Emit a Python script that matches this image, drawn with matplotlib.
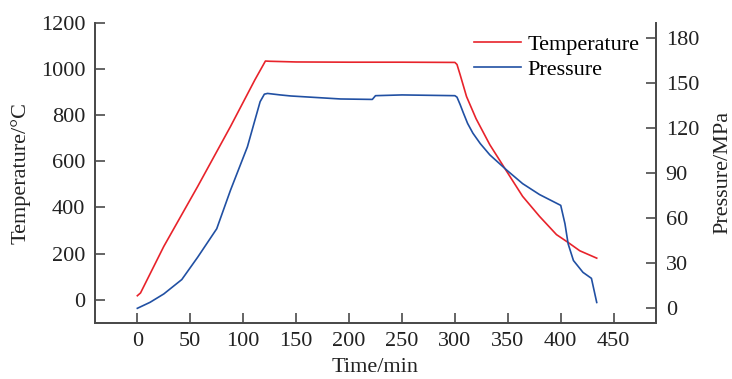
import matplotlib
matplotlib.use("Agg")
import matplotlib.pyplot as plt

plt.rcParams['font.family'] = ['Liberation Serif', 'DejaVu Serif']

# temperature curve (min, degC)
t_time = [0, 3, 25, 57, 88, 111, 121, 125, 150, 200, 250, 300, 302, 305, 311,
          320, 333, 349, 364, 380, 396, 407, 418, 434]
t_val = [17, 29, 231, 491, 751, 953, 1035, 1034, 1031, 1030, 1030, 1029, 1020,
         975, 881, 785, 672, 556, 448, 361, 282, 248, 212, 180]

# pressure curve (min, MPa)
p_time = [0, 12, 25, 42, 57, 75, 88, 104, 111, 116, 120, 123, 135, 145, 192,
          222, 225, 250, 300, 302, 305, 308, 312, 317, 324, 333, 349, 364, 380,
          400, 404, 407, 412, 421, 429, 434]
p_val = [-0.4, 3.6, 9.2, 18.8, 33.7, 52.7, 78.4, 107.4, 125, 137.5, 142.5, 143,
         142, 141.3, 139.3, 139, 141.5, 142, 141.5, 140.5, 135.5, 130, 123,
         116.5, 109.5, 102, 91.8, 82.8, 75.5, 68.3, 56, 42.6, 31.5, 23.6, 19.6,
         3.5]

x_ticks = [0, 50, 100, 150, 200, 250, 300, 350, 400, 450]
t_ticks = [0, 200, 400, 600, 800, 1000, 1200]
p_ticks = [0, 30, 60, 90, 120, 150, 180]

red = '#e8232b'
blue = '#2150a3'
spine_c = '#4a4a4a'
txt_c = '#222222'

fig = plt.figure(figsize=(7.32, 3.79), dpi=100)
ax = fig.add_axes([95 / 732, 1 - 322.7 / 379, (656 - 95) / 732, (322.7 - 23) / 379])
ax2 = ax.twinx()

l1, = ax.plot(t_time, t_val, color=red, lw=1.2, label='Temperature')
l2, = ax2.plot(p_time, p_val, color=blue, lw=1.2, label='Pressure')

ax.set_xlim(-40, 490)
ax.set_ylim(-100, 1200)
ax2.set_ylim(-10, 190)
ax.set_xticks(x_ticks)
ax.set_yticks(t_ticks)
ax2.set_yticks(p_ticks)

for a in (ax, ax2):
    a.spines['top'].set_visible(False)
    for s in a.spines.values():
        s.set_color(spine_c)
        s.set_linewidth(1.3)
    a.tick_params(direction='in', length=7, width=1.2, color=spine_c,
                  labelsize=16, labelcolor=txt_c, pad=7)

ax.set_xlabel('Time/min', fontsize=16, color=txt_c, labelpad=5)
ax.set_ylabel('Temperature/\u00b0C', fontsize=16, color=txt_c, labelpad=7)
ax2.set_ylabel('Pressure/MPa', fontsize=16, color=txt_c, labelpad=10)

ax.legend(handles=[l1, l2], loc='upper right', bbox_to_anchor=(0.983, 0.985),
          frameon=False, fontsize=16, handlelength=2.1, handletextpad=0.3,
          labelspacing=0.2, borderpad=0.1, borderaxespad=0.2)

fig.savefig('out.png', dpi=100)
